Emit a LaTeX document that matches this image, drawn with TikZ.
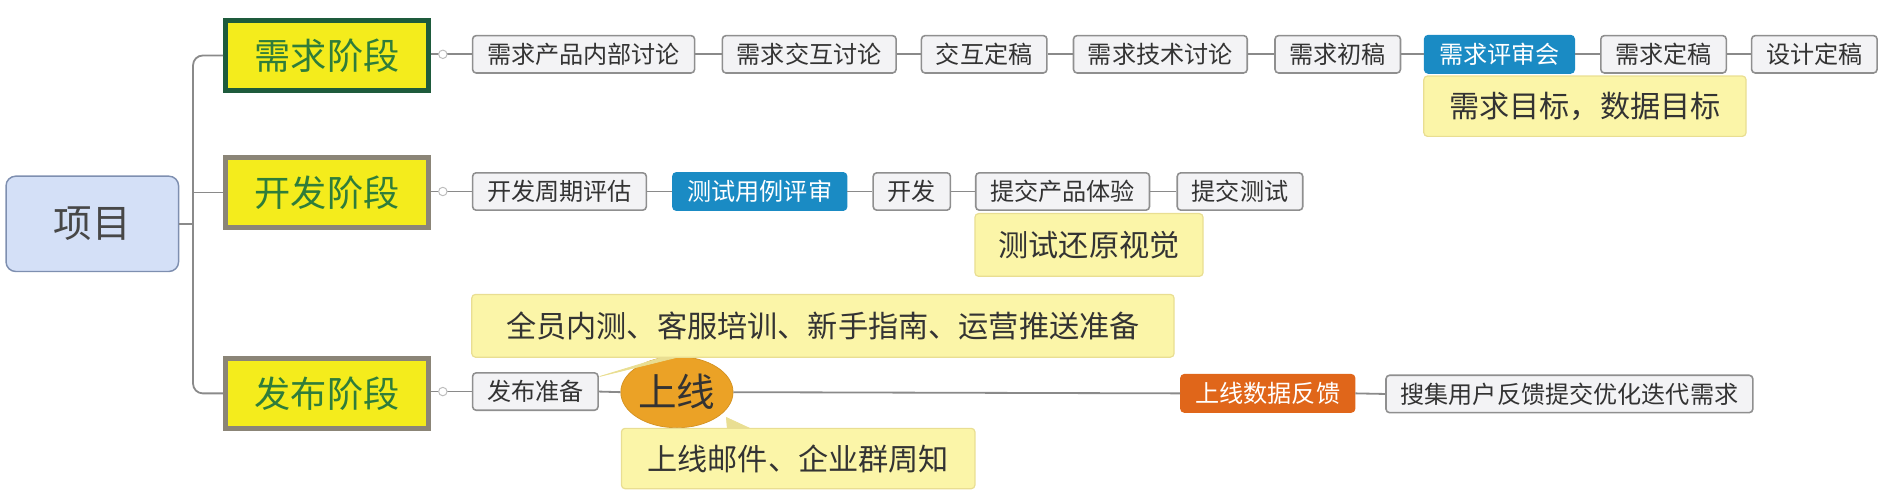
\documentclass[tikz,border=0pt]{standalone}
\usepackage{fontspec}
\setmainfont{Noto Sans CJK SC}
\usetikzlibrary{shapes.geometric,calc}
\definecolor{conn}{HTML}{8A8A8A}
\definecolor{boxfill}{HTML}{F3F3F5}
\definecolor{boxline}{HTML}{8F8F8F}
\definecolor{txt}{HTML}{333333}
\definecolor{phfill}{HTML}{F4EC1C}
\definecolor{phgreen}{HTML}{1E5B3C}
\definecolor{phgray}{HTML}{8B8577}
\definecolor{phtext}{HTML}{2F7D3A}
\definecolor{bluefill}{HTML}{1A8BC4}
\definecolor{redorange}{HTML}{E0661A}
\definecolor{ellfill}{HTML}{EBA226}
\definecolor{notefill}{HTML}{FBF5A8}
\definecolor{noteline}{HTML}{E9DE92}
\definecolor{rootfill}{HTML}{D4E0F7}
\definecolor{rootline}{HTML}{7E8FB0}
\tikzset{
  connline/.style={draw=conn, line width=1.5pt},
  stepbox/.style={draw=boxline, fill=boxfill, line width=1.3pt, rounded corners=3pt,
    minimum height=31pt, inner xsep=12pt, inner ysep=0pt, anchor=west,
    text=txt, font=\fontsize{20}{23}\selectfont},
  bluebox/.style={stepbox, draw=bluefill, fill=bluefill, text=white},
  redbox/.style={stepbox, draw=redorange, fill=redorange, text=white},
  phase/.style={fill=phfill, line width=4pt, minimum width=168pt, minimum height=58pt,
    text=phtext, font=\fontsize{30}{34}\selectfont, inner sep=0pt},
  note/.style={draw=noteline, fill=notefill, line width=1pt, rounded corners=3pt,
    minimum height=50pt, inner sep=0pt, text=txt, font=\fontsize{25}{28}\selectfont},
  marker/.style={circle, draw=boxline!60, fill=white, line width=0.8pt, minimum size=7pt, inner sep=0pt},
  callout/.style={fill=noteline, draw=noteline, line width=0.6pt}
}
\begin{document}
\begin{tikzpicture}[x=1pt,y=-1pt]
\useasboundingbox (0,0) rectangle (1568,413);
% root
\node[draw=rootline, fill=rootfill, line width=1.2pt, rounded corners=8pt,
  minimum width=143pt, minimum height=79pt, text=txt!90, font=\fontsize{32}{36}\selectfont] (root) at (76.5,185.5) {项目};
% phases
\node[phase, draw=phgreen] (p1) at (271,46) {需求阶段};
\node[phase, draw=phgray] (p2) at (271,159.5) {开发阶段};
\node[phase, draw=phgray] (p3) at (271,326) {发布阶段};
% trunk
\coordinate (tk) at (160,185.5);
\draw[connline] (root.east) -- (tk);
\draw[connline, rounded corners=8pt] (p1.west) -| (tk) |- (p3.west);
\draw[connline] (p2.west) -- (p2.west -| tk);
% row 1
\node[stepbox] (a1) at (391,45) {需求产品内部讨论};
\node[stepbox] (a2) at (598,45) {需求交互讨论};
\node[stepbox] (a3) at (763,45) {交互定稿};
\node[stepbox] (a4) at (889,45) {需求技术讨论};
\node[stepbox] (a5) at (1056,45) {需求初稿};
\node[bluebox] (a6) at (1180,45) {需求评审会};
\node[stepbox] (a7) at (1326,45) {需求定稿};
\node[stepbox] (a8) at (1451,45) {设计定稿};
\draw[connline] (p1.east |- a1.west) -- (a1.west);
\foreach \i/\j in {a1/a2,a2/a3,a3/a4,a4/a5,a5/a6,a6/a7,a7/a8}
  \draw[connline] (\i.east) -- (\j.west);
\node[marker] (m1) at (367,45) {};
\node[note, minimum width=267pt] (n1) at (1313.5,88) {需求目标，数据目标};
% row 2
\node[stepbox] (b1) at (391,158.7) {开发周期评估};
\node[bluebox] (b2) at (557,158.7) {测试用例评审};
\node[stepbox] (b3) at (723,158.7) {开发};
\node[stepbox] (b4) at (808,158.7) {提交产品体验};
\node[stepbox] (b5) at (975,158.7) {提交测试};
\draw[connline] (p2.east |- b1.west) -- (b1.west);
\foreach \i/\j in {b1/b2,b2/b3,b3/b4,b4/b5}
  \draw[connline] (\i.east) -- (\j.west);
\node[marker] (m2) at (367,158.7) {};
\node[note, minimum width=189pt, minimum height=52pt] (n2) at (902.5,203) {测试还原视觉};
% row 3
\node[stepbox] (c1) at (391,324.5) {发布准备};
\node[ellipse, fill=ellfill, draw=ellfill!90!black, line width=0.6pt, minimum width=93pt, minimum height=59pt,
  inner sep=0pt, text=txt, font=\fontsize{32}{36}\selectfont] (c2) at (561,325) {上线};
\node[redbox] (c3) at (978,326) {上线数据反馈};
\node[stepbox] (c4) at (1148,326.5) {搜集用户反馈提交优化迭代需求};
\draw[connline] (p3.east |- c1.west) -- (c1.west);
\draw[connline] (c1.east) -- (c2.west);
\draw[connline] (c2.east) -- (c3.west);
\draw[connline] (c3.east) -- (c4.west);
\node[marker] (m3) at (367,324.5) {};
\node[note, minimum width=582pt, minimum height=52pt] (n3) at (682,270) {全员内测、客服培训、新手指南、运营推送准备};
\node[note, minimum width=293pt, minimum height=50pt] (n4) at (661.5,380) {上线邮件、企业群周知};
% callout wedges
\coordinate (w1) at (497,312);
\coordinate (w2) at (602,346);
\fill[callout] (w1) -- ($(n3.south west)!0.27!(n3.south east)$) -- ($(n3.south west)!0.29!(n3.south east)$) -- cycle;
\fill[callout] (w2) -- ($(n4.north west)!0.30!(n4.north east)$) -- ($(n4.north west)!0.36!(n4.north east)$) -- cycle;
\end{tikzpicture}
\end{document}
